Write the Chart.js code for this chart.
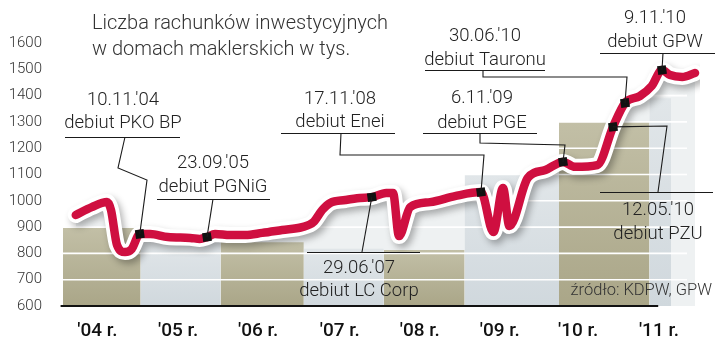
<!DOCTYPE html>
<html>
<head>
<meta charset="utf-8">
<script src="https://cdn.jsdelivr.net/npm/chart.js@4.4.1/dist/chart.umd.min.js"></script>
<style>
  html, body { margin: 0; padding: 0; background: #fff; }
</style>
</head>
<body>
<canvas id="chart" width="720" height="341"></canvas>
<script>
// line: x in decimal years, y in thousands of accounts
const lineX = [2004.16, 2004.36, 2004.55, 2004.60, 2004.675, 2004.775, 2004.86, 2004.96,
  2005.09, 2005.31, 2005.59, 2005.71, 2005.80, 2005.90, 2006.09, 2006.28, 2006.49, 2006.74,
  2006.99, 2007.13, 2007.24, 2007.34, 2007.53, 2007.71, 2007.86, 2008.04, 2008.125, 2008.20,
  2008.34, 2008.59, 2008.90, 2009.225, 2009.38, 2009.50, 2009.58, 2009.81, 2010.03, 2010.25,
  2010.40, 2010.68, 2010.875, 2011.025, 2011.21, 2011.36, 2011.4875, 2011.59, 2011.74, 2011.90];
const lineY = [946, 976, 995, 965, 832, 805, 817, 874,
  874, 862, 859, 855, 862, 874, 870, 870, 878, 889,
  900, 919, 965, 992, 1003, 1011, 1014, 1030, 1030, 866,
  976, 995, 1018, 1033, 881, 1049, 904, 1087, 1117, 1148,
  1129, 1136, 1281, 1372, 1398, 1437, 1497, 1478, 1471, 1486];

// debut markers on the line
const markerX = [2004.96, 2005.80, 2007.86, 2009.225, 2010.25, 2010.875, 2011.025, 2011.4875];
const markerY = [874, 862, 1014, 1033, 1148, 1281, 1372, 1497];
const calloutDates = ["10.11.'04", "23.09.'05", "29.06.'07", "17.11.'08", "6.11.'09", "12.05.'10", "30.06.'10", "9.11.'10"];
const calloutNames = ["debiut PKO BP", "debiut PGNiG", "debiut LC Corp", "debiut Enei", "debiut PGE", "debiut PZU", "debiut Tauronu", "debiut GPW"];

// background year bands
const bandEdges = [2004, 2004.97, 2005.97, 2007.01, 2008.01, 2009.02, 2010.2, 2011.33, 2011.6];
const bandTops = [897, 845, 842, 818, 813, 1100, 1300, 1390];

const yearTicks = [2004.43, 2005.44, 2006.44, 2007.46, 2008.46, 2009.46, 2010.44, 2011.45];
const yearLabels = ["'04 r.", "'05 r.", "'06 r.", "'07 r.", "'08 r.", "'09 r.", "'10 r.", "'11 r."];
const gridValues = [700, 800, 900, 1000, 1100, 1200, 1300, 1400, 1500];

const titleLines = ['Liczba rachunków inwestycyjnych', 'w domach maklerskich w tys.'];
const sourceText = 'źródło: KDPW, GPW';

// label placement (pixels) for each callout, same order as markers
const calloutLayout = [
  { cx: 123, y1: 100, y2: 123, ul: [65, 180, 137], path: [[125, 137], [118, 168], [147, 180]] },
  { cx: 213, y1: 163, y2: 187, ul: [157, 270, 199], path: [[213, 199]] },
  { cx: 359, y1: 268, y2: 291, ul: [307, 420, 252], path: [[362, 252]] },
  { cx: 340, y1: 99, y2: 122, ul: [281, 395, 133], path: [[341, 133], [340, 155], [484, 155]] },
  { cx: 482, y1: 98, y2: 123, ul: [423, 537, 133], path: [[480, 133], [480, 143], [565, 145]] },
  { cx: 658, y1: 210, y2: 234, ul: [600, 713, 192], path: [[658, 192], [667, 126]] },
  { cx: 485, y1: 36, y2: 60, ul: [425, 545, 70], path: [[483, 70], [483, 77], [627, 77]] },
  { cx: 655, y1: 18, y2: 42, ul: [600, 715, 53], path: [[663, 53]] }
];

const RED = '#cf0f40';
const OLIVE = ['#aaa688', '#c2bfa6'];
const BLUE = ['#d0d8dd', '#e1e6e9'];

const linePoints = lineX.map((x, i) => ({ x: x, y: lineY[i] }));

function bandGradient(ctx, top, cols) {
  const chart = ctx.chart;
  const area = chart.chartArea;
  if (!area) return cols[0];
  const yTop = chart.scales.y.getPixelForValue(top);
  const g = chart.ctx.createLinearGradient(0, area.bottom, 0, yTop);
  g.addColorStop(0, cols[0]);
  g.addColorStop(1, cols[1]);
  return g;
}

const datasets = [];

// light fill under the line
datasets.push({
  data: linePoints,
  borderWidth: 0,
  pointRadius: 0,
  fill: 'start',
  backgroundColor: 'rgba(226,231,234,0.6)',
  cubicInterpolationMode: 'monotone',
  order: 10
});

// year bands
bandTops.forEach((top, i) => {
  const cols = i % 2 === 0 ? OLIVE : BLUE;
  datasets.push({
    data: [{ x: bandEdges[i], y: top }, { x: bandEdges[i + 1], y: top }],
    borderWidth: 0,
    pointRadius: 0,
    fill: 'start',
    backgroundColor: ctx => bandGradient(ctx, top, cols),
    order: 9
  });
});

// white horizontal gridlines over the bands
const gridPts = [];
gridValues.forEach(v => {
  gridPts.push({ x: 2003.97, y: v }, { x: 2011.8, y: v }, { x: 2011.85, y: null });
});
datasets.push({
  data: gridPts,
  borderColor: '#ffffff',
  borderWidth: 1.6,
  pointRadius: 0,
  fill: false,
  order: 8
});

// x axis base line
datasets.push({
  data: [{ x: 2003.97, y: 600 }, { x: 2011.44, y: 600 }],
  borderColor: '#111',
  borderWidth: 2,
  pointRadius: 0,
  clip: false,
  order: 7
});

// white halo with shadow
datasets.push({
  data: linePoints,
  borderColor: '#ffffff',
  borderWidth: 16,
  borderCapStyle: 'round',
  borderJoinStyle: 'round',
  pointRadius: 0,
  fill: false,
  cubicInterpolationMode: 'monotone',
  shadow: true,
  order: 3
});

// red line
datasets.push({
  data: linePoints,
  borderColor: RED,
  borderWidth: 8.5,
  borderCapStyle: 'round',
  borderJoinStyle: 'round',
  pointRadius: 0,
  fill: false,
  cubicInterpolationMode: 'monotone',
  order: 2
});

// markers
datasets.push({
  data: markerX.map((x, i) => ({ x: x, y: markerY[i] })),
  showLine: false,
  pointStyle: 'rect',
  pointRadius: 6.2,
  pointRotation: -8,
  pointBackgroundColor: '#111',
  pointBorderColor: '#111',
  pointBorderWidth: 0,
  order: 1
});

const haloShadow = {
  id: 'haloShadow',
  beforeDatasetDraw(chart, args) {
    if (chart.data.datasets[args.index].shadow) {
      const ctx = chart.ctx;
      ctx.save();
      ctx.shadowColor = 'rgba(0,0,0,0.3)';
      ctx.shadowBlur = 7;
      ctx.shadowOffsetX = 3;
      ctx.shadowOffsetY = 4;
    }
  },
  afterDatasetDraw(chart, args) {
    if (chart.data.datasets[args.index].shadow) chart.ctx.restore();
  }
};

const callouts = {
  id: 'callouts',
  afterDatasetsDraw(chart) {
    const ctx = chart.ctx;
    const xs = chart.scales.x, ys = chart.scales.y;
    ctx.save();

    // title
    ctx.fillStyle = '#333';
    ctx.font = '300 20px Roboto';
    ctx.textAlign = 'left';
    ctx.textBaseline = 'middle';
    ctx.fillText(titleLines[0], 92, 24);
    ctx.fillText(titleLines[1], 92, 50);

    // leaders, underlines, texts
    ctx.strokeStyle = '#1a1a1a';
    ctx.lineWidth = 1.1;
    calloutLayout.forEach((c, i) => {
      const mx = xs.getPixelForValue(markerX[i]);
      const my = ys.getPixelForValue(markerY[i]);
      ctx.beginPath();
      ctx.moveTo(c.ul[0], c.ul[2] + 0.5);
      ctx.lineTo(c.ul[1], c.ul[2] + 0.5);
      ctx.stroke();
      ctx.beginPath();
      ctx.moveTo(c.path[0][0], c.path[0][1]);
      for (let k = 1; k < c.path.length; k++) ctx.lineTo(c.path[k][0], c.path[k][1]);
      ctx.lineTo(mx, my);
      ctx.stroke();

      ctx.fillStyle = '#222';
      ctx.font = '300 18.5px Roboto';
      ctx.textAlign = 'center';
      ctx.fillText(calloutDates[i], c.cx, c.y1);
      ctx.fillText(calloutNames[i], c.cx, c.y2);
    });

    // source
    ctx.fillStyle = '#333';
    ctx.font = '300 16.5px Roboto';
    ctx.textAlign = 'right';
    ctx.fillText(sourceText, 712, 291);
    ctx.restore();
  }
};

new Chart(document.getElementById('chart').getContext('2d'), {
  type: 'line',
  data: { datasets: datasets },
  options: {
    responsive: false,
    animation: false,
    events: [],
    layout: { padding: { top: 43, right: 20, left: 0, bottom: 0 } },
    plugins: {
      legend: { display: false },
      tooltip: { enabled: false },
      title: { display: false }
    },
    scales: {
      x: {
        type: 'linear',
        min: 2003.9625,
        max: 2011.9625,
        afterBuildTicks: scale => { scale.ticks = yearTicks.map(v => ({ value: v })); },
        afterFit: scale => { scale.height = 35; },
        ticks: {
          autoSkip: false,
          maxRotation: 0,
          padding: 6,
          color: '#111',
          font: { family: 'Roboto', size: 19, weight: 500 },
          callback: (v, i) => yearLabels[i]
        },
        grid: { display: false },
        border: { display: false }
      },
      y: {
        min: 600,
        max: 1600,
        afterFit: scale => { scale.width = 60; },
        ticks: {
          stepSize: 100,
          padding: 10,
          color: '#333',
          font: { family: 'Roboto', size: 15, weight: 300 },
          callback: v => String(v)
        },
        grid: { display: false },
        border: { display: false }
      }
    }
  },
  plugins: [haloShadow, callouts]
});
</script>
</body>
</html>
